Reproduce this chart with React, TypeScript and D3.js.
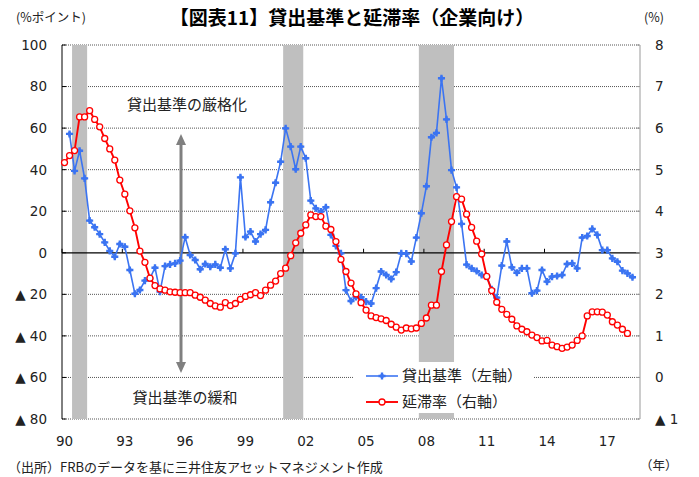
import * as d3 from 'd3';

// quarterly categories, 1990Q1 .. 2018Q3
const startYear = 1990;
const quarterCount = 115;
const quarters = d3.range(quarterCount).map((i) => `${startYear + Math.floor(i / 4)}Q${(i % 4) + 1}`);

const yearTicks = ['1990Q1', '1993Q1', '1996Q1', '1999Q1', '2002Q1', '2005Q1', '2008Q1', '2011Q1', '2014Q1', '2017Q1'];
const yearLabels = ['90', '93', '96', '99', '02', '05', '08', '11', '14', '17'];

const leftTicks = [-80, -60, -40, -20, 0, 20, 40, 60, 80, 100];
const rightTicks = [-1, 0, 1, 2, 3, 4, 5, 6, 7, 8];

// recession periods (first quarter, last quarter)
const recessions = [
  ['1990Q3', '1991Q1'],
  ['2001Q1', '2001Q4'],
  ['2007Q4', '2009Q2'],
];

// 貸出基準 (左軸, %ポイント)
const lendingStandards: (number | null)[] = [
  null, 57.2, 39.4, 49.1, 35.8, 15.5, 12.3, 9.0, 5.0, 0.9,
  -1.9, 4.2, 2.9, -8.3, -19.7, -17.9, -13.4, -12.3, -7.2, -18.7,
  -6.4, -5.6, -5.1, -3.8, 7.5, -1.1, -3.5, -7.9, -5.4, -6.7,
  -5.6, -7.2, 1.7, -7.5, -0.3, 36.3, 7.6, 10.2, 5.4, 9.0,
  11.0, 24.3, 33.7, 43.8, 59.9, 51.1, 40.2, 51.1, 45.5, 25.1,
  21.4, 19.8, 21.9, 8.6, 3.3, -0.3, -18.0, -23.2, -21.3, -21.4,
  -23.5, -24.4, -17.0, -9.0, -10.7, -12.6, -9.3, -0.3, -0.4, -4.2,
  7.3, 19.0, 32.0, 55.6, 57.7, 84.0, 64.2, 39.8, 31.5, 13.9,
  -5.7, -7.5, -8.8, -10.7, -11.5, -17.6, -21.6, -6.2, 5.4, -7.0,
  -9.6, -7.5, -7.5, -19.5, -18.2, -8.3, -13.9, -11.5, -11.2, -10.7,
  -5.4, -5.1, -7.5, 7.3, 8.1, 11.5, 8.6, 1.3, 1.3, -2.7,
  -4.3, -8.6, -9.9, -11.8,
];

// 延滞率 (右軸, %)
const delinquencyRate: number[] = [
  5.17, 5.34, 5.46, 6.27, 6.27, 6.42, 6.21, 6.03, 5.75, 5.5,
  5.23, 4.75, 4.41, 4.01, 3.6, 3.04, 2.77, 2.39, 2.21, 2.13,
  2.1, 2.06, 2.05, 2.04, 2.04, 2.04, 1.98, 1.93, 1.86, 1.78,
  1.72, 1.69, 1.8, 1.73, 1.78, 1.88, 1.95, 1.99, 2.04, 1.97,
  2.1, 2.22, 2.32, 2.5, 2.63, 2.93, 3.24, 3.47, 3.67, 3.91,
  3.87, 3.87, 3.64, 3.56, 3.27, 2.84, 2.55, 2.27, 2.01, 1.8,
  1.62, 1.48, 1.44, 1.41, 1.37, 1.28, 1.21, 1.14, 1.19, 1.17,
  1.19, 1.3, 1.43, 1.74, 1.74, 2.55, 3.19, 3.75, 4.35, 4.29,
  3.93, 3.61, 3.28, 2.97, 2.43, 2.09, 1.81, 1.64, 1.52, 1.4,
  1.24, 1.16, 1.1, 1.02, 0.96, 0.88, 0.89, 0.78, 0.74, 0.7,
  0.73, 0.78, 0.89, 1.0, 1.48, 1.58, 1.58, 1.57, 1.5, 1.34,
  1.26, 1.16, 1.06,
];

const BLUE = '#3b74f2';
const RED = '#ff0000';
const numFont = '"DejaVu Sans", Verdana, sans-serif';
const jpFont = '"Noto Sans CJK JP", "Noto Sans", sans-serif';

const plot = { left: 62, right: 640, top: 45, bottom: 419 };

// blue marker: cross + diamond, looks like the excel "✦" marker
const cross = d3.symbol(d3.symbolCross, 28)() as string;
const diamond = d3.symbol(d3.symbolDiamond2, 22)() as string;

const BlueMarker = ({ x, y }: { x: number; y: number }) => (
  <g transform={`translate(${x},${y})`} fill={BLUE}>
    <path d={cross} />
    <path d={diamond} />
  </g>
);

const App = () => {
  const x = d3.scaleBand<string>().domain(quarters).range([plot.left, plot.right]);
  const bw = x.bandwidth();
  const cx = (i: number) => (x(quarters[i]) as number) + bw / 2;
  const yL = d3.scaleLinear().domain([-80, 100]).range([plot.bottom, plot.top]);
  const yR = d3.scaleLinear().domain([-1, 8]).range([plot.bottom, plot.top]);

  const blueLine = d3
    .line<number | null>()
    .defined((d) => d != null)
    .x((_, i) => cx(i))
    .y((d) => yL(d as number));
  const redLine = d3
    .line<number>()
    .x((_, i) => cx(i))
    .y((d) => yR(d));

  const arrowX = 181;

  return (
    <svg width={699} height={477} style={{ position: 'absolute', left: 0, top: 0, background: '#fff' }}>
      {/* titles */}
      <text x={352} y={25} textAnchor="middle" fontFamily={jpFont} fontWeight="bold" fontSize={19} fill="#000">
        【図表11】貸出基準と延滞率（企業向け）
      </text>
      <text x={16} y={22} fontFamily={jpFont} fontSize={12.5} fill="#222">(%ポイント)</text>
      <text x={644} y={22} fontFamily={jpFont} fontSize={12.5} fill="#222">(%)</text>

      {/* grid */}
      {leftTicks.filter((v) => v !== 0).map((v) => (
        <line key={v} x1={plot.left} x2={plot.right} y1={yL(v)} y2={yL(v)} stroke="#555" strokeDasharray="1 1" />
      ))}

      {/* recession bands */}
      {recessions.map(([a, b]) => (
        <rect
          key={a}
          x={x(a)}
          y={plot.top}
          width={(x(b) as number) + bw - (x(a) as number)}
          height={plot.bottom - plot.top}
          fill="#bfbfbf"
        />
      ))}

      {/* axes */}
      <line x1={plot.left} x2={plot.right} y1={yL(0)} y2={yL(0)} stroke="#000" strokeWidth={1.2} />
      <line x1={plot.left} x2={plot.left} y1={plot.top} y2={plot.bottom} stroke="#000" />
      <line x1={plot.right} x2={plot.right} y1={plot.top} y2={plot.bottom} stroke="#999" />
      {leftTicks.map((v) => (
        <g key={v}>
          <line x1={plot.left} x2={plot.left + 4} y1={yL(v)} y2={yL(v)} stroke="#000" />
          <text x={47} y={yL(v)} dy="0.36em" textAnchor="end" fontFamily={numFont} fontSize={13.5} fill="#222">
            {v < 0 ? `▲ ${-v}` : `${v}`}
          </text>
        </g>
      ))}
      {rightTicks.map((v) => (
        <g key={v}>
          <line x1={plot.right - 4} x2={plot.right} y1={yR(v)} y2={yR(v)} stroke="#999" />
          <text x={655} y={yR(v)} dy="0.36em" fontFamily={numFont} fontSize={13.5} fill="#222">
            {v < 0 ? `▲ ${-v}` : `${v}`}
          </text>
        </g>
      ))}
      {yearTicks.map((q, k) => (
        <g key={q}>
          <line x1={x(q)} x2={x(q)} y1={yL(0)} y2={yL(0) - 4} stroke="#000" />
          <text x={(x(q) as number) + bw / 2} y={441} dy="0.36em" textAnchor="middle" fontFamily={numFont} fontSize={13.5} fill="#222">
            {yearLabels[k]}
          </text>
        </g>
      ))}

      {/* annotation arrow */}
      <line x1={arrowX} x2={arrowX} y1={143} y2={364} stroke="#808080" strokeWidth={3} />
      <path d={`M${arrowX},134 L${arrowX - 5},145 L${arrowX + 5},145 Z`} fill="#808080" />
      <path d={`M${arrowX},373 L${arrowX - 5},362 L${arrowX + 5},362 Z`} fill="#808080" />
      <text x={187} y={105} dy="0.36em" textAnchor="middle" fontFamily={jpFont} fontSize={15} fill="#222">
        貸出基準の厳格化
      </text>
      <text x={185} y={398} dy="0.36em" textAnchor="middle" fontFamily={jpFont} fontSize={15} fill="#222">
        貸出基準の緩和
      </text>

      {/* series */}
      <path d={blueLine(lendingStandards) as string} fill="none" stroke={BLUE} strokeWidth={1.6} />
      {lendingStandards.map((v, i) => (v == null ? null : <BlueMarker key={i} x={cx(i)} y={yL(v)} />))}
      <path d={redLine(delinquencyRate) as string} fill="none" stroke={RED} strokeWidth={1.9} />
      {delinquencyRate.map((v, i) => (
        <circle key={i} cx={cx(i)} cy={yR(v)} r={3} fill="#fff" stroke={RED} strokeWidth={1.3} />
      ))}

      {/* legend */}
      <rect x={354} y={362} width={180} height={51} fill="#fff" />
      <line x1={366} x2={398} y1={376} y2={376} stroke={BLUE} strokeWidth={1.6} />
      <BlueMarker x={382} y={376} />
      <text x={402} y={376} dy="0.36em" fontFamily={jpFont} fontSize={15} fill="#222">貸出基準（左軸）</text>
      <line x1={366} x2={398} y1={402} y2={402} stroke={RED} strokeWidth={1.9} />
      <circle cx={382} cy={402} r={3} fill="#fff" stroke={RED} strokeWidth={1.3} />
      <text x={402} y={402} dy="0.36em" fontFamily={jpFont} fontSize={15} fill="#222">延滞率（右軸）</text>

      {/* footer */}
      <text x={8} y={467} dy="0.36em" fontFamily={jpFont} fontSize={13} fill="#222">
        （出所）FRBのデータを基に三井住友アセットマネジメント作成
      </text>
      <text x={640} y={465} dy="0.36em" fontFamily={jpFont} fontSize={12.5} fill="#222">（年）</text>
    </svg>
  );
};

export default App;
